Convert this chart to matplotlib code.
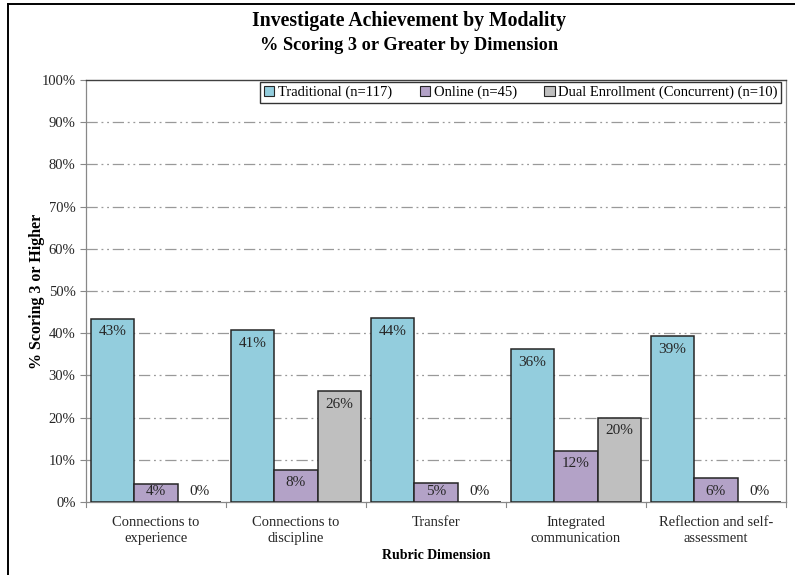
import numpy as np
import matplotlib.pyplot as plt
from matplotlib.lines import Line2D

categories = ["Connections to\nexperience", "Connections to\ndiscipline", "Transfer",
              "Integrated\ncommunication", "Reflection and self-\nassessment"]
series_names = ["Traditional (n=117)", "Online (n=45)", "Dual Enrollment (Concurrent) (n=10)"]
traditional = [43.4, 40.7, 43.6, 36.2, 39.3]
online = [4.3, 7.7, 4.6, 12.2, 5.7]
dual = [0.0, 26.3, 0.0, 20.0, 0.0]
colors = ["#93CDDD", "#B3A2C7", "#BFBFBF"]

plt.rcParams['font.family'] = ['Liberation Serif', 'DejaVu Serif']

fig = plt.figure(figsize=(7.95, 5.75), dpi=100)
ax = fig.add_axes([86/795, 73/575, 700/795, 422/575])

x = np.arange(len(categories))
w = 0.31
for i, (vals, name, c) in enumerate(zip([traditional, online, dual], series_names, colors)):
    pos = x + (i - 1) * w
    ax.bar(pos, vals, w, color=c, edgecolor='#262626', linewidth=1.1, label=name, zorder=3)
    for p, v in zip(pos, vals):
        ax.text(p, max(v - 3.1, 2.6), "{:.0f}%".format(v), ha='center', va='center',
                fontsize=11, color='#262626', zorder=4)

ax.set_xlim(-0.5, len(categories) - 0.5)
ax.set_ylim(0, 100)
ax.set_yticks(np.arange(0, 101, 10))
ax.set_yticklabels(["{}%".format(t) for t in range(0, 101, 10)], fontsize=10.5, color='#262626')
ax.set_xticks(x)
ax.set_xticklabels(categories, fontsize=10.5, color='#262626', linespacing=1.3)
ax.tick_params(axis='x', length=0, pad=10)
ax.tick_params(axis='y', length=4, color='#888888', width=0.8)
# group separators on the x axis
for b in np.arange(-0.5, len(categories), 1.0):
    ax.plot([b, b], [0, -1.2], color='#888888', lw=0.8, clip_on=False, zorder=1)

for t in range(10, 100, 10):
    ax.axhline(t, color='#999999', lw=0.9, ls=(0, (9, 3, 1.5, 3, 1.5, 3)), zorder=1)

for s in ['left', 'bottom', 'right']:
    ax.spines[s].set_color('#888888')
    ax.spines[s].set_linewidth(0.9)
ax.spines['top'].set_color('#404040')
ax.spines['top'].set_linewidth(1.0)

ax.set_ylabel("% Scoring 3 or Higher", fontsize=11.5, fontweight='bold')
ax.yaxis.set_label_coords(-0.059, 0.5)
ax.set_xlabel("Rubric Dimension", fontsize=10, fontweight='bold', labelpad=3)

leg = ax.legend(loc='upper right', ncol=3, fontsize=10.5, frameon=True, fancybox=False,
                edgecolor='black', handlelength=0.7, handleheight=0.7, handletextpad=0.25,
                columnspacing=1.9, borderpad=0.25, borderaxespad=0,
                bbox_to_anchor=(0.9935, 0.995))
leg.get_frame().set_linewidth(1.0)
for h in leg.legend_handles:
    h.set_edgecolor('#262626')
    h.set_linewidth(0.8)

fig.text(0.515, 0.964, "Investigate Achievement by Modality", ha='center', va='center',
         fontsize=14.2, fontweight='bold')
fig.text(0.515, 0.92, "% Scoring 3 or Greater by Dimension", ha='center', va='center',
         fontsize=13.2, fontweight='bold')

# outer frame (left and top edges)
fig.add_artist(Line2D([7.5/795, 7.5/795], [0, 1 - 3.5/575], color='black', lw=1.4,
                      transform=fig.transFigure))
fig.add_artist(Line2D([7.5/795, 1], [1 - 3.5/575, 1 - 3.5/575], color='black', lw=1.4,
                      transform=fig.transFigure))

fig.savefig("out.png", dpi=100)
